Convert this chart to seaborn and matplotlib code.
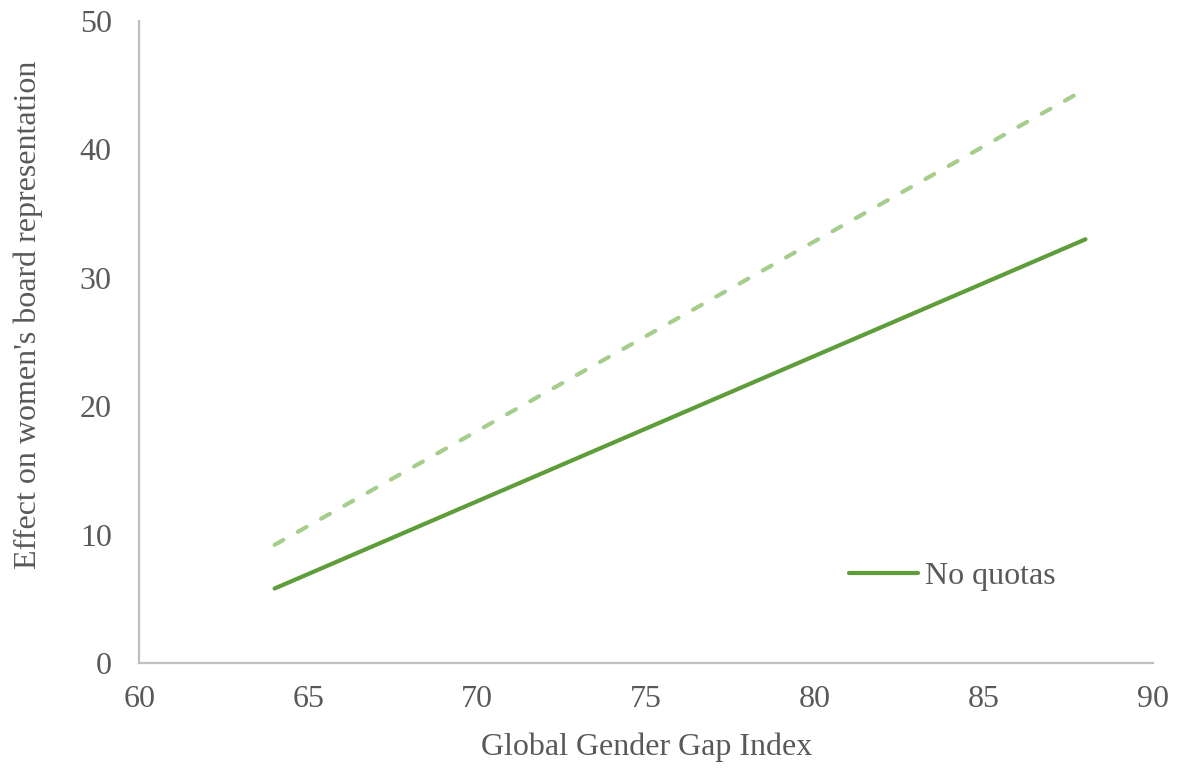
import matplotlib
matplotlib.use("Agg")
import matplotlib.pyplot as plt
import seaborn as sns
import pandas as pd

# Gender gap index endpoints and predicted effects
gap_index = [64, 88]
no_quotas = [5.8, 33.0]
quotas = [9.2, 44.7]

x_ticks = [60, 65, 70, 75, 80, 85, 90]
y_ticks = [0, 10, 20, 30, 40, 50]

sns.set_theme(style="white")
plt.rcParams["font.family"] = ["Liberation Serif", "DejaVu Serif"]

text_color = "#595959"
axis_color = "#BFBFBF"

df_no = pd.DataFrame({"gap": gap_index, "effect": no_quotas})
df_q = pd.DataFrame({"gap": gap_index, "effect": quotas})

fig = plt.figure(figsize=(11.79, 7.70), dpi=100)
ax = fig.add_axes([0.1183, 0.139, 0.8597, 0.8337])

sns.lineplot(data=df_q, x="gap", y="effect", ax=ax, color="#a5cd8c",
             linewidth=3.0, linestyle=(0, (2.4, 4.0)), label="_nolegend_",
             solid_capstyle="round", dash_capstyle="round")
sns.lineplot(data=df_no, x="gap", y="effect", ax=ax, color="#5f9c3a",
             linewidth=3.0, label="No quotas", solid_capstyle="round")

ax.set_xlim(60, 90)
ax.set_ylim(0, 50)
ax.set_xticks(x_ticks)
ax.set_yticks(y_ticks)
ax.tick_params(axis="both", length=0, labelsize=23, labelcolor=text_color)
ax.tick_params(axis="x", pad=16)
ax.tick_params(axis="y", pad=20)

for side in ["top", "right"]:
    ax.spines[side].set_visible(False)
for side in ["left", "bottom"]:
    ax.spines[side].set_color(axis_color)
    ax.spines[side].set_linewidth(1.6)

ax.set_xlabel("Global Gender Gap Index", fontsize=23, color=text_color, labelpad=13)
ax.set_ylabel("Effect on women's board representation", fontsize=23,
              color=text_color)
ax.yaxis.set_label_coords(-0.095, 0.542)

leg = ax.legend(loc="center left", bbox_to_anchor=(0.672, 0.135), frameon=False,
                fontsize=23, handlelength=2.15, handletextpad=0.22)
for t in leg.get_texts():
    t.set_color(text_color)

fig.savefig("out.png", dpi=100)
